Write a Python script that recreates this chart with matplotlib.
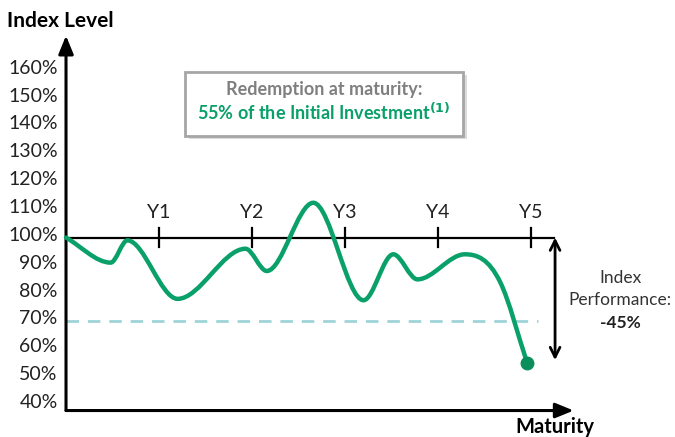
import numpy as np
import matplotlib
matplotlib.use("Agg")
import matplotlib.pyplot as plt
from matplotlib.path import Path
from matplotlib.patches import PathPatch, Rectangle

plt.rcParams['font.family'] = ['Lato', 'DejaVu Sans']

# Index path (years since start, index level in %)
years = [0.0, 0.48, 0.66, 1.2, 1.93, 2.16, 2.66, 3.2, 3.52, 3.78, 4.29, 4.67, 4.96]
levels = [100, 91, 99, 78, 96, 88, 112.5, 77.5, 94, 85, 94, 84, 55]

y_ticks = [160, 150, 140, 130, 120, 110, 100, 90, 80, 70, 60, 50, 40]
year_labels = ["Y1", "Y2", "Y3", "Y4", "Y5"]
year_pos = [1, 2, 3, 4, 5]
barrier = 70
final_level = 55
performance = final_level - 100

GREEN = "#0aa06a"
GREEN_DARK = "#0a8f5c"
TEAL = "#9fd4d8"

fig = plt.figure(figsize=(6.75, 4.37), dpi=100)
ax = fig.add_axes([0, 0, 1, 1])
ax.set_xlim(-0.71, 6.55)
ax.set_ylim(28.4, 185.3)
ax.axis("off")

x_axis_y = 37.9


def smooth_path(xs, ys):
    """Piecewise cubic Bezier through the points; flat tangents at turning points."""
    xs = np.asarray(xs, float)
    ys = np.asarray(ys, float)
    n = len(xs)
    slopes = np.zeros(n)
    for i in range(n):
        if i == 0:
            slopes[i] = (ys[1] - ys[0]) / (xs[1] - xs[0])
        elif i == n - 1:
            slopes[i] = (ys[-1] - ys[-2]) / (xs[-1] - xs[-2])
        else:
            d0 = (ys[i] - ys[i - 1]) / (xs[i] - xs[i - 1])
            d1 = (ys[i + 1] - ys[i]) / (xs[i + 1] - xs[i])
            if d0 * d1 <= 0:
                slopes[i] = 0.0
            else:
                h0 = xs[i] - xs[i - 1]
                h1 = xs[i + 1] - xs[i]
                slopes[i] = (d0 * h1 + d1 * h0) / (h0 + h1)
    verts = [(xs[0], ys[0])]
    codes = [Path.MOVETO]
    for i in range(n - 1):
        h = xs[i + 1] - xs[i]
        verts += [(xs[i] + h / 3, ys[i] + slopes[i] * h / 3),
                  (xs[i + 1] - h / 3, ys[i + 1] - slopes[i + 1] * h / 3),
                  (xs[i + 1], ys[i + 1])]
        codes += [Path.CURVE4] * 3
    return Path(verts, codes)


# Axes with arrow heads
ax.annotate("", xy=(0, 172.5), xytext=(0, x_axis_y),
            arrowprops=dict(arrowstyle="-|>,head_length=1.1,head_width=0.45",
                            color="black", lw=2.2, shrinkA=0, shrinkB=0))
ax.annotate("", xy=(5.46, x_axis_y), xytext=(0, x_axis_y),
            arrowprops=dict(arrowstyle="-|>,head_length=1.1,head_width=0.45",
                            color="black", lw=2.2, shrinkA=0, shrinkB=0))

# 100% reference line with yearly ticks
ax.plot([0, 5.25], [100, 100], color="black", lw=1.6, zorder=2)
for xp, lab in zip(year_pos, year_labels):
    ax.plot([xp, xp], [96.5, 103.5], color="black", lw=1.6, zorder=2)
    ax.text(xp, 109, lab, ha="center", va="center", fontsize=14, color="#222222")

# barrier
ax.plot([0, 5.08], [barrier, barrier], color=TEAL, lw=2, ls=(0, (4.5, 3.2)), zorder=1)

# y tick labels
for v in y_ticks:
    ax.text(-0.09, v + 0.8, f"{v}%", ha="right", va="center", fontsize=14, color="#222222")

# index path
ax.add_patch(PathPatch(smooth_path(years, levels), fill=False, edgecolor=GREEN,
                       lw=3.2, capstyle="round", joinstyle="round", zorder=3))
ax.plot(years[-1], levels[-1], "o", color=GREEN_DARK, ms=9, zorder=4)

# performance arrow
ax.annotate("", xy=(5.26, final_level + 1), xytext=(5.26, 100),
            arrowprops=dict(arrowstyle="<->,head_length=0.7,head_width=0.35",
                            color="black", lw=2, shrinkA=0, shrinkB=0))
ax.text(5.96, 85.6, "Index", ha="center", va="center", fontsize=12.5, color="#333333")
ax.text(5.96, 77.6, "Performance:", ha="center", va="center", fontsize=12.5, color="#333333")
ax.text(5.96, 69.3, f"{performance}%", ha="center", va="center", fontsize=12.5,
        fontweight="bold", color="#222222")

# titles
ax.text(-0.63, 177.6, "Index Level", ha="left", va="center", fontsize=15,
        fontweight="bold", color="black")
ax.text(5.26, 32.0, "Maturity", ha="center", va="center", fontsize=14.5,
        fontweight="bold", color="black")

# redemption box
bx0, bx1 = 1.28, 4.27
by0, by1 = 136.5, 159.5
ax.add_patch(Rectangle((bx0 + 0.04, by0 - 1.2), bx1 - bx0, by1 - by0,
                       facecolor="#cccccc", edgecolor="none", alpha=0.7, zorder=4))
ax.add_patch(Rectangle((bx0, by0), bx1 - bx0, by1 - by0, facecolor="white",
                       edgecolor="#a6a6a6", lw=2, zorder=5))
cx = (bx0 + bx1) / 2
ax.text(cx, 153.3, "Redemption at maturity:", ha="center", va="center",
        fontsize=13, fontweight="bold", color="#7f7f7f", zorder=6)
ax.text(cx, 145.0, f"{final_level}% of the Initial Investment$^{{\\mathbf{{(1)}}}}$",
        ha="center", va="center", fontsize=13, fontweight="bold",
        color=GREEN, zorder=6)

fig.savefig("out.png", dpi=100)
